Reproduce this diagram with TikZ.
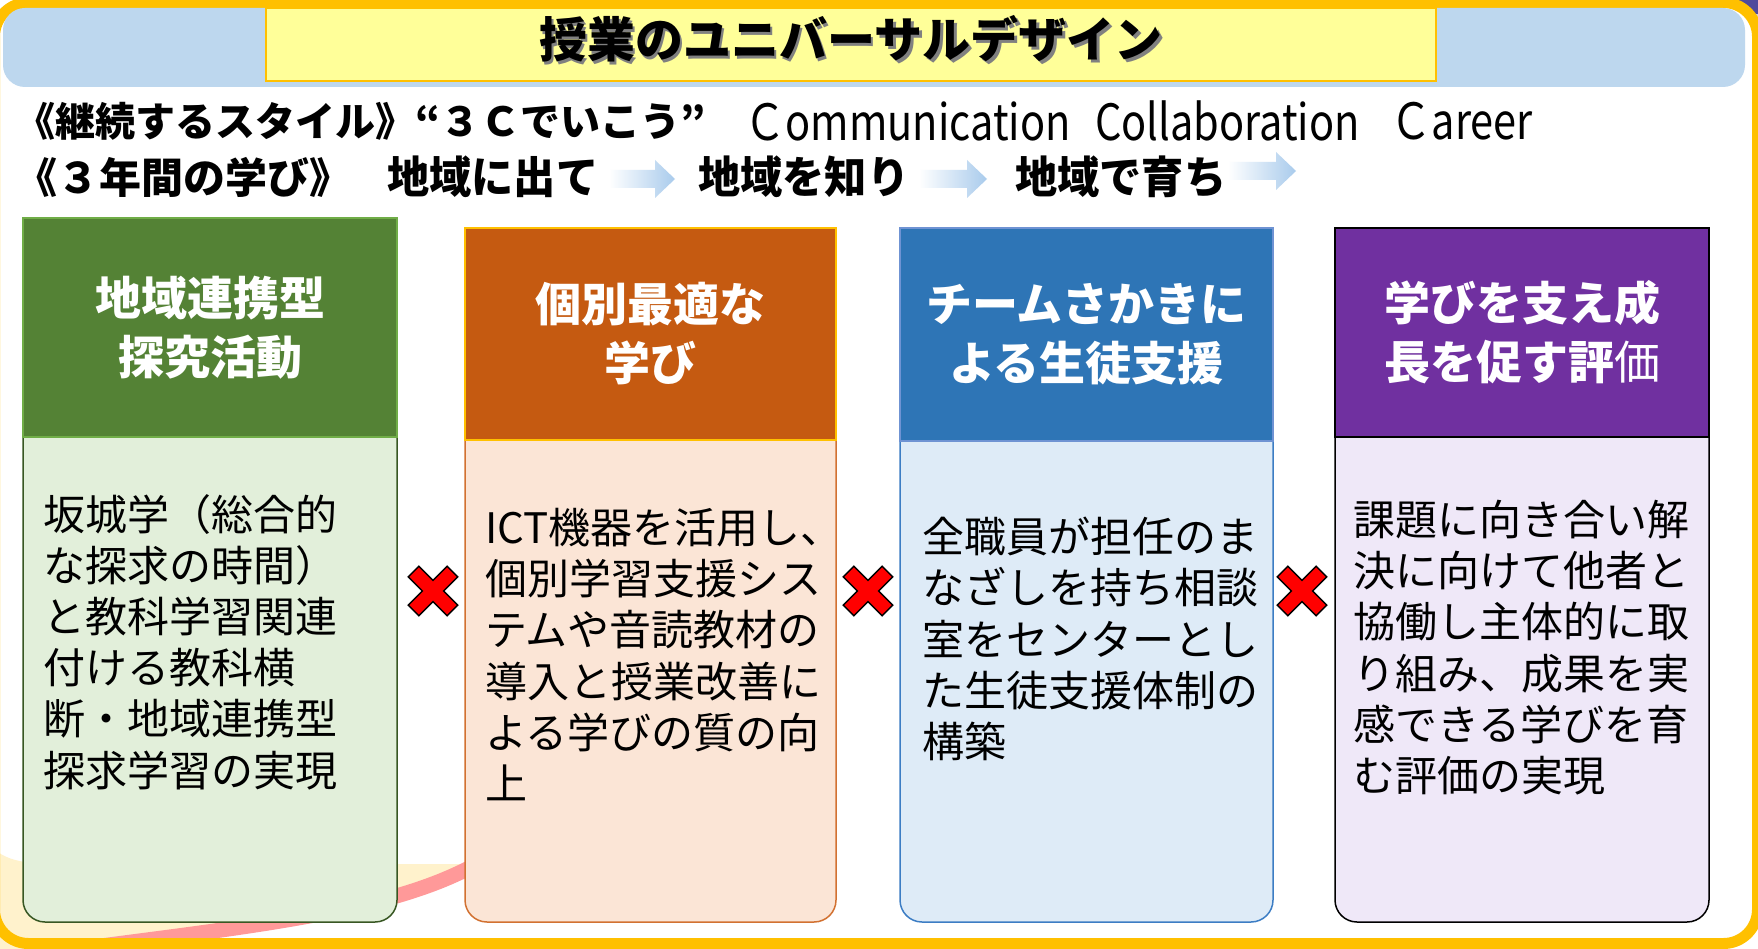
\documentclass[tikz,border=0pt]{standalone}
\usepackage{fontspec}
\setmainfont{Noto Sans CJK JP}
\newfontfamily\jpc{Noto Sans CJK JP}[FakeStretch=0.96]
\newfontfamily\jpen{Noto Sans CJK JP}[FakeStretch=0.83]
\definecolor{frameY}{HTML}{FFC000}
\definecolor{bandB}{HTML}{BDD7EE}
\definecolor{titleY}{HTML}{FFFF99}
\definecolor{gHead}{HTML}{548235}
\definecolor{gHeadB}{HTML}{70AD47}
\definecolor{gBody}{HTML}{E2EFDA}
\definecolor{gBodyB}{HTML}{385723}
\definecolor{oHead}{HTML}{C55A11}
\definecolor{oBody}{HTML}{FBE5D6}
\definecolor{oBodyB}{HTML}{D27131}
\definecolor{bHead}{HTML}{2E75B6}
\definecolor{bHeadB}{HTML}{6F93D3}
\definecolor{bBody}{HTML}{DEEBF7}
\definecolor{bBodyB}{HTML}{3C7DC4}
\definecolor{pHead}{HTML}{7030A0}
\definecolor{pBody}{HTML}{EFE8F8}
\definecolor{paleY}{HTML}{FFF2CC}
\definecolor{pinkB}{HTML}{FF9999}
\definecolor{arrowB}{HTML}{A9CBEC}
\definecolor{cornerP}{HTML}{4F4A9C}
\definecolor{cornerG}{HTML}{9BBB59}
\tikzset{
  hdr/.style={rectangle, text=white, align=center, line width=2.5,
    minimum width=374, font=\bfseries\fontsize{46}{59}\selectfont},
  bodybox/.style={rectangle, rounded corners=22, line width=1.5,
    minimum width=374},
  bodytxt/.style={anchor=north west, inner sep=0, align=left,
    font=\fontsize{42}{51.2}\selectfont},
  linetxt/.style={anchor=west, inner sep=0},
  bluearrow/.style={left color=white, right color=arrowB, shading angle=90},
  redx/.pic={\draw[fill=red, draw=black, line width=1.5]
    (7.5,27.5) -- (7.5,7.5) -- (27.5,7.5) -- (27.5,-7.5) -- (7.5,-7.5)
    -- (7.5,-27.5) -- (-7.5,-27.5) -- (-7.5,-7.5) -- (-27.5,-7.5)
    -- (-27.5,7.5) -- (-7.5,7.5) -- (-7.5,27.5) -- cycle;}
}
\begin{document}
\begin{tikzpicture}[x=1pt,y=-1pt]
\useasboundingbox (0,0) rectangle (1758,949);
% corner bits outside the frame
\fill[cornerP] (1728,0) rectangle (1758,14);
\fill[gray!35] (1742,14) rectangle (1758,40);
\fill[cornerG] (1746,38) rectangle (1758,52);
% white interior
\fill[white, rounded corners=34] (-5.5,2.5) rectangle (1757.5,943.5);
% decoration bottom left
\fill[paleY] (-5,850) .. controls (10,862) and (30,864) .. (60,864)
  -- (480,864) -- (480,862) .. controls (380,920) and (200,930) .. (0,960)
  -- (-5,960) -- cycle;
\draw[pinkB, line width=15] (0,960) .. controls (200,930) and (380,920) .. (480,862);
% frame
\draw[frameY, line width=11, rounded corners=34] (-5.5,2.5) rectangle (1757.5,943.5);
% band and title
\fill[bandB, rounded corners=22] (3,8) rectangle (1745,87);
\node[rectangle, fill=titleY, draw=frameY, line width=2, minimum width=1170,
  minimum height=73] (title) at (851,44.5) {};
\node[inner sep=0] (titletxt) at (851,40)
  {\fontsize{48}{56}\selectfont\bfseries\makebox[0pt][l]{\hspace{2.5pt}\raisebox{-2.5pt}{\color{gray}授業のユニバーサルデザイン}}授業のユニバーサルデザイン};
% line 1
\node[linetxt] (l1a) at (15,121) {\bfseries\fontsize{40}{48}\selectfont 《継続するスタイル》“３Ｃでいこう”};
\node[linetxt] (l1b) at (744,121) {\jpen\fontsize{50}{56}\selectfont Ｃommunication};
\node[linetxt] (l1c) at (1095,121) {\jpen\fontsize{50}{56}\selectfont Collaboration};
\node[linetxt] (l1d) at (1390,121) {\jpen\fontsize{50}{56}\selectfont Ｃareer};
% line 2
\node[linetxt] (l2a) at (15,177) {\bfseries\fontsize{42}{48}\selectfont 《３年間の学び》};
\node[linetxt] (l2b) at (387,177) {\jpc\bfseries\fontsize{44}{48}\selectfont 地域に出て};
\node[linetxt] (l2c) at (698,177) {\jpc\bfseries\fontsize{44}{48}\selectfont 地域を知り};
\node[linetxt] (l2d) at (1015,177) {\jpc\bfseries\fontsize{44}{48}\selectfont 地域で育ち};
\shade[bluearrow] (609,170) -- (655,170) -- (655,160) -- (675,179) -- (655,198) -- (655,188) -- (609,188) -- cycle;
\shade[bluearrow] (919,170) -- (967,170) -- (967,160) -- (987,179) -- (967,198) -- (967,188) -- (919,188) -- cycle;
\shade[bluearrow] (1228,162) -- (1276,162) -- (1276,152) -- (1296,171) -- (1276,190) -- (1276,180) -- (1228,180) -- cycle;
% bodies
\node[bodybox, fill=gBody, draw=gBodyB, minimum height=592] (b1) at (210,626) {};
\node[bodybox, fill=oBody, draw=oBodyB, minimum width=371, minimum height=588] (b2) at (650.5,628) {};
\node[bodybox, fill=bBody, draw=bBodyB, minimum width=373, minimum height=588] (b3) at (1086.5,628) {};
\node[bodybox, fill=pBody, draw=black, minimum height=592] (b4) at (1522,626) {};
% headers
\node[hdr, fill=gHead, draw=gHeadB, minimum height=219] (h1) at (210,327.5) {地域連携型\\探究活動};
\node[hdr, fill=oHead, draw=frameY, minimum width=371, minimum height=212] (h2) at (650.5,334) {個別最適な\\学び};
\node[hdr, fill=bHead, draw=bHeadB, minimum width=373, minimum height=213] (h3) at (1086.5,334.5) {チームさかきに\\よる生徒支援};
\node[hdr, fill=pHead, draw=black, minimum height=209] (h4) at (1522,332.5) {学びを支え成\\長を促す評{\mdseries 価}};
% body texts
\node[bodytxt] (t1) at (43,494) {坂城学（総合的\\な探求の時間）\\と教科学習関連\\付ける教科横\\断・地域連携型\\探求学習の実現};
\node[bodytxt] (t2) at (485,508) {ICT機器を活用し、\\個別学習支援シス\\テムや音読教材の\\導入と授業改善に\\よる学びの質の向\\上};
\node[bodytxt] (t3) at (922,517) {全職員が担任のま\\なざしを持ち相談\\室をセンターとし\\た生徒支援体制の\\構築};
\node[bodytxt] (t4) at (1353,500) {課題に向き合い解\\決に向けて他者と\\協働し主体的に取\\り組み、成果を実\\感できる学びを育\\む評価の実現};
% cross marks
\pic[rotate=45] at (433,591) {redx};
\pic[rotate=45] at (868,591) {redx};
\pic[rotate=45] at (1302,591) {redx};
\end{tikzpicture}
\end{document}
